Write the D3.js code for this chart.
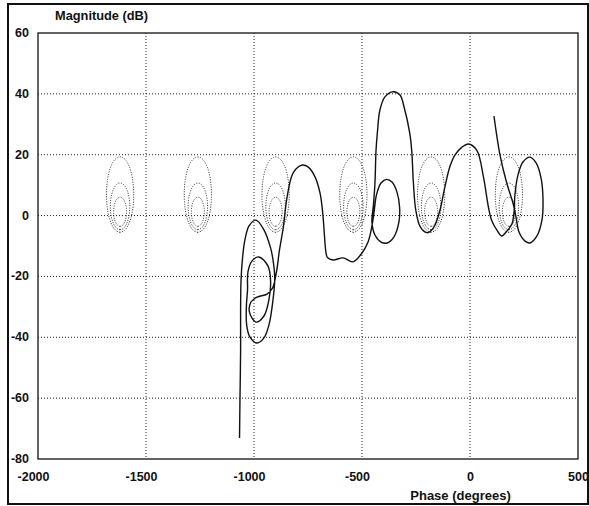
<!DOCTYPE html>
<html><head><meta charset="utf-8">
<script src="https://cdn.jsdelivr.net/npm/d3@7"></script>
<style>body{margin:0;background:#fff}svg{display:block}</style>
</head><body>
<svg id="c" width="589" height="506"></svg>
<script>
// Open-loop Nichols trace: phase (degrees) and magnitude (dB)
const phaseDeg = [111,139,170,199,213,
  227,255,278,310,333,338,329,306,278,245,222,208,204,194,
  171,147,124,100,85,62,31,-8,-37,
  -70,-93,-116,-139,-162,-185,-200,-230,-251,-262,-270,-279,-305,-324,-355,-394,-417,-429,-435,-440,-447,
  -454,-440,-412,-383,-352,-329,-326,-338,-361,-386,-412,-433,-444,-454,-472,-500,
  -542,-588,-634,-660,-667,-674,-681,-694,-718,-750,-776,-806,-826,-849,-864,-882,-896,-914,
  -940,-986,-1014,-1021,-991,-954,-931,-923,-935,-977,-1009,-1028,-1030,-1035,-1034,-1019,-986,-954,-931,-912,-904,-912,-923,-954,-991,-1023,-1042,-1053,-1060,-1062,-1062,-1065,-1067];
const magDb = [32.7,19.9,10.7,4.1,-0.5,
  -5.4,-8.4,-9.0,-6.7,-1.5,5.1,12.3,17.3,19.2,17.6,13.3,6.8,1.2,-2.8,
  -5.1,-6.7,-4.7,-1.5,2.9,12.8,21.5,23.5,22.5,
  19.9,16.1,9.5,1.8,-3.1,-5.3,-5.6,-3.7,1.8,10.7,21.5,27.1,35.6,39.6,40.7,39.0,34.7,27.1,21.5,10.7,3.5,
  -2.1,-6.4,-8.7,-9.0,-7.0,-2.1,2.8,7.7,11.0,11.9,10.7,6.8,1.2,-3.4,-8.7,-12.3,
  -15.2,-13.9,-14.6,-13.8,-12.0,-6.4,0.2,7.3,12.8,16.0,16.6,15.3,12.8,5.1,-3.7,-11.3,-18.5,-23.8,
  -25.8,-26.8,-28.4,-31.7,-35.0,-33.0,-27.7,-21.8,-16.6,-13.6,-14.9,-18.5,-24.5,-29.4,-36.0,-39.9,-41.9,-40.2,-36.0,-27.7,-20.5,-14.6,-10.7,-4.7,-1.5,-3.4,-8.0,-13.9,-21.2,-31.0,-44.2,-60.6,-73.1];
const xTicks = [-2000,-1500,-1000,-500,0,500];
const yTicks = [60,40,20,0,-20,-40,-60,-80];
const mContourDb = [1,3,6];                       // closed-loop magnitude contours (Nichols grid)
const contourCenters = [-1620,-1260,-900,-540,-180,180];

const svg = d3.select('#c');
const x = d3.scaleLinear().domain([-2000,500]).range([38,578]);
const y = d3.scaleLinear().domain([-80,60]).range([459,33]);
const FONT = "'Liberation Sans', Arial, Helvetica, sans-serif";
const fmt = d => String(d);

// outer frame
svg.append('rect').attr('x',8).attr('y',4).attr('width',580).attr('height',500)
  .attr('fill','none').attr('stroke','#111').attr('stroke-width',2);

// grid
const grid = svg.append('g');
grid.selectAll('.gx').data(xTicks.slice(1,-1)).join('line')
  .attr('x1',d=>x(d)).attr('x2',d=>x(d)).attr('y1',y(60)).attr('y2',y(-80))
  .attr('stroke','#222').attr('stroke-width',1).attr('stroke-dasharray','1,2');
grid.selectAll('.gy').data(yTicks.slice(1,-1)).join('line')
  .attr('y1',d=>y(d)).attr('y2',d=>y(d)).attr('x1',x(-2000)).attr('x2',x(500))
  .attr('stroke','#222').attr('stroke-width',1).attr('stroke-dasharray','1,2');

// Nichols M-contours
const cline = d3.line().x(d=>x(d[0])).y(d=>y(d[1])).curve(d3.curveLinearClosed);
const cg = svg.append('g');
contourCenters.forEach(cc => {
  mContourDb.forEach(mdb => {
    const M = Math.pow(10, mdb/20);
    const c = -M*M/(M*M-1), r = M/(M*M-1);
    const pts = d3.range(0,360,2).map(t => {
      const th = t*Math.PI/180;
      const re = c + r*Math.cos(th), im = r*Math.sin(th);
      let ph = Math.atan2(im,re)*180/Math.PI; if (ph > 0) ph -= 360;
      return [ph + cc + 180, 20*Math.log10(Math.hypot(re,im))];
    });
    cg.append('path').attr('d', cline(pts)).attr('fill','none')
      .attr('stroke','#222').attr('stroke-width',1).attr('stroke-dasharray','1,1.5');
  });
});

// plot frame
svg.append('rect').attr('x',x(-2000)).attr('y',y(60)).attr('width',x(500)-x(-2000)).attr('height',y(-80)-y(60))
  .attr('fill','none').attr('stroke','#111').attr('stroke-width',1.3);

// main curve
const data = phaseDeg.map((p,i)=>[p,magDb[i]]);
const line = d3.line().x(d=>x(d[0])).y(d=>y(d[1])).curve(d3.curveCatmullRom.alpha(0.5));
svg.append('path').attr('d', line(data)).attr('fill','none')
  .attr('stroke','#111').attr('stroke-width',1.4).attr('stroke-linejoin','round');

// axes labels
const ax = svg.append('g').attr('transform',`translate(0,${y(-80)})`)
  .call(d3.axisBottom(x).tickValues(xTicks).tickSize(0).tickPadding(13.5).tickFormat(fmt));
ax.select('.domain').remove();
ax.selectAll('text').attr('font-family',FONT).attr('font-size',12.5).attr('font-weight','bold')
  .attr('fill','#111').attr('dx',d=>d<0?-5:0);
const ay = svg.append('g').attr('transform',`translate(${x(-2000)},0)`)
  .call(d3.axisLeft(y).tickValues(yTicks).tickSize(0).tickPadding(9).tickFormat(fmt));
ay.select('.domain').remove();
ay.selectAll('text').attr('font-family',FONT).attr('font-size',12.5).attr('font-weight','bold')
  .attr('fill','#111').attr('dy','0.28em');

svg.append('text').attr('x',55).attr('y',19.5).text('Magnitude (dB)')
  .attr('font-family',FONT).attr('font-size',12.8).attr('font-weight','bold').attr('fill','#111');
svg.append('text').attr('x',460.5).attr('y',500).attr('text-anchor','middle').text('Phase (degrees)')
  .attr('font-family',FONT).attr('font-size',13).attr('font-weight','bold').attr('fill','#111');
</script>
</body></html>
